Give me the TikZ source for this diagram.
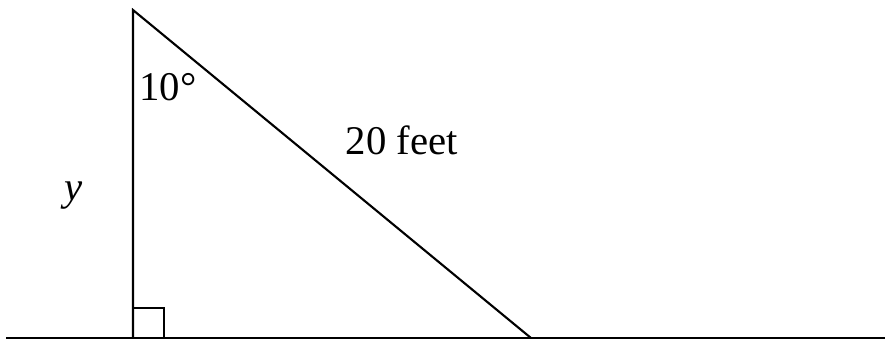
\documentclass[tikz,border=0pt]{standalone}
\usepackage{fontspec}
\setmainfont{Liberation Serif}
\begin{document}
\begin{tikzpicture}[x=0.1mm,y=-0.1mm,line join=miter,line width=0.6pt,
	nhan/.style={inner sep=0pt,font=\fontsize{11.6}{14}\selectfont}]
	\useasboundingbox (0,0) rectangle (885,339);
	%%% dinh tam giac
	\coordinate (A) at (133,10);
	\coordinate (B) at (133,338);
	\coordinate (C) at (531,338);
	\coordinate (L) at (6,338);
	\coordinate (R) at (885,338);
	\draw (L)--(R);
	\draw (B)--(A)--(C);
	\draw (B)++(0,-30)--++(31,0)--++(0,30);
	\path (168,87) node[nhan] (goc) {10°};
	\path (402,140) node[nhan] (canh) {20 feet};
	\path (74,196) node[nhan] (y) {\textit{y}};
\end{tikzpicture}
\end{document}
